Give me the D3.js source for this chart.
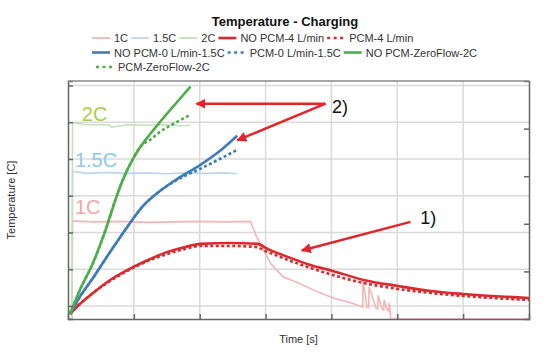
<!DOCTYPE html>
<html>
<head>
<meta charset="utf-8">
<script src="https://cdn.jsdelivr.net/npm/d3@7"></script>
<style>
  body { margin: 0; background: #fff; }
  svg { font-family: "Liberation Sans", Arial, sans-serif; }
</style>
</head>
<body>
<svg id="chart" width="548" height="352"></svg>
<script>
// time [s] / temperature [C] for the main curves
const redSolidT = [30, 180, 380, 640, 990, 1250, 1510, 1780, 2010, 2470, 2880, 3030, 3380, 3680, 4020, 4490, 5010, 5510, 6010, 7000];
const redSolidV = [23.91, 25.27, 26.77, 28.54, 30.31, 31.40, 32.36, 33.04, 33.45, 33.58, 33.45, 32.77, 31.54, 30.59, 29.77, 28.54, 27.72, 27.04, 26.63, 26.09];
const redDotT = [30, 180, 380, 640, 990, 1250, 1510, 1780, 2010, 2470, 2840, 3030, 3380, 3680, 4020, 4490, 5010, 5510, 6010, 7000];
const redDotV = [23.91, 25.27, 26.77, 28.41, 30.18, 31.27, 32.08, 32.77, 33.17, 33.17, 33.04, 32.36, 31.13, 30.18, 29.22, 28.13, 27.32, 26.77, 26.36, 25.82];

const blueSolidT = [30, 150, 380, 640, 900, 1140, 1400, 1660, 2010, 2310, 2570];
const blueSolidV = [23.91, 25.82, 28.81, 32.36, 35.76, 38.62, 40.67, 42.30, 44.21, 46.12, 48.16];
const blueDotT = [30, 150, 380, 640, 900, 1140, 1400, 1660, 2010, 2310, 2570];
const blueDotV = [23.91, 25.82, 28.81, 32.36, 35.76, 38.62, 40.67, 42.17, 43.67, 45.03, 46.25];

const greenSolidT = [30, 180, 380, 560, 720, 820, 970, 1100, 1250, 1400, 1660, 1860];
const greenSolidV = [23.91, 27.18, 30.86, 35.08, 39.44, 41.89, 44.75, 46.66, 48.43, 50.07, 52.79, 54.84];
const greenDotT = [30, 180, 380, 560, 720, 820, 970, 1100, 1250, 1400, 1660, 1860];
const greenDotV = [23.91, 27.18, 30.86, 35.08, 39.44, 41.89, 44.75, 46.66, 47.62, 48.71, 50.07, 51.02];

// charging current [A] (right axis)
const c1T = [0, 60, 70, 400, 800, 1200, 1600, 2000, 2400, 2770, 2860, 2950, 3080, 3270, 3490, 3790, 4030, 4290, 4440, 4474, 4480, 4540, 4566, 4572, 4680, 4703, 4710, 4770, 4794, 4800, 4850, 4870, 4880, 4900, 7000];
const c1V = [0, 0, 2.06, 2.04, 2.05, 2.03, 2.04, 2.05, 2.04, 2.05, 1.74, 1.49, 1.16, 0.88, 0.76, 0.57, 0.44, 0.34, 0.27, 0.25, 0.80, 0.25, 0.24, 0.67, 0.22, 0.21, 0.50, 0.20, 0.19, 0.40, 0.18, 0.17, 0.34, 0, 0];
const c15T = [0, 60, 70, 300, 600, 900, 1200, 1500, 1800, 2100, 2400, 2570];
const c15V = [0, 0, 3.10, 3.06, 3.08, 3.06, 3.07, 3.05, 3.07, 3.06, 3.07, 3.05];
const c2T = [0, 60, 70, 300, 620, 660, 900, 1200, 1500, 1700, 1860];
const c2V = [0, 0, 4.12, 4.08, 4.08, 4.03, 4.08, 4.07, 4.08, 4.06, 4.07];

const xTicks = [1000, 2000, 3000, 4000, 5000, 6000];
const yTicks = [25, 30, 35, 40, 45, 50, 55];
const y2Ticks = [1, 2, 3, 4];

const legendRows = [
  ["1C", "1.5C", "2C", "NO PCM-4 L/min", "PCM-4 L/min"],
  ["NO PCM-0 L/min-1.5C", "PCM-0 L/min-1.5C", "NO PCM-ZeroFlow-2C"],
  ["PCM-ZeroFlow-2C"]
];

const red = "#db2a2e", blue = "#3d7cb8", green = "#4fae4b";
const styles = {
  "1C": {color: "#f3b6b6", width: 1.6, dash: null},
  "1.5C": {color: "#bcd7ec", width: 1.6, dash: null},
  "2C": {color: "#c3e2b9", width: 1.6, dash: null},
  "NO PCM-4 L/min": {color: red, width: 2.6, dash: null},
  "PCM-4 L/min": {color: red, width: 2.6, dash: "3,2.5"},
  "NO PCM-0 L/min-1.5C": {color: blue, width: 2.6, dash: null},
  "PCM-0 L/min-1.5C": {color: blue, width: 2.6, dash: "3,2.5"},
  "NO PCM-ZeroFlow-2C": {color: green, width: 2.6, dash: null},
  "PCM-ZeroFlow-2C": {color: green, width: 2.6, dash: "3,2.5"}
};

const svg = d3.select("#chart");
const margin = {top: 81, right: 19, bottom: 33, left: 68};
const width = 548 - margin.left - margin.right;
const height = 352 - margin.top - margin.bottom;

const x = d3.scaleLinear().domain([0, 7000]).range([0, width]);
const y = d3.scaleLinear().domain([23.23, 55.61]).range([height, 0]);
const y2 = d3.scaleLinear().domain([0, 5]).range([height, 0]);

const g = svg.append("g").attr("transform", `translate(${margin.left},${margin.top})`);

// grid
g.append("g").selectAll("line").data(xTicks).enter().append("line")
  .attr("x1", d => x(d)).attr("x2", d => x(d)).attr("y1", 0).attr("y2", height)
  .attr("stroke", "#dadada").attr("stroke-width", 1.5);
g.append("g").selectAll("line").data(yTicks).enter().append("line")
  .attr("y1", d => y(d)).attr("y2", d => y(d)).attr("x1", 0).attr("x2", width)
  .attr("stroke", "#dadada").attr("stroke-width", 1.5);

const zip = (ts, vs) => ts.map((t, i) => ({t: t, v: vs[i]}));
const lineT = d3.line().x(d => x(d.t)).y(d => y(d.v)).curve(d3.curveMonotoneX);
const lineC = d3.line().x(d => x(d.t)).y(d => y2(d.v));

const series = [
  {name: "1C", data: zip(c1T, c1V), gen: lineC},
  {name: "1.5C", data: zip(c15T, c15V), gen: lineC},
  {name: "2C", data: zip(c2T, c2V), gen: lineC},
  {name: "NO PCM-4 L/min", data: zip(redSolidT, redSolidV), gen: lineT},
  {name: "PCM-4 L/min", data: zip(redDotT, redDotV), gen: lineT},
  {name: "NO PCM-0 L/min-1.5C", data: zip(blueSolidT, blueSolidV), gen: lineT},
  {name: "PCM-0 L/min-1.5C", data: zip(blueDotT, blueDotV), gen: lineT},
  {name: "NO PCM-ZeroFlow-2C", data: zip(greenSolidT, greenSolidV), gen: lineT},
  {name: "PCM-ZeroFlow-2C", data: zip(greenDotT, greenDotV), gen: lineT}
];

series.forEach(s => {
  const st = styles[s.name];
  g.append("path")
    .datum(s.data)
    .attr("d", s.gen)
    .attr("fill", "none")
    .attr("stroke", st.color)
    .attr("stroke-width", st.width)
    .attr("stroke-dasharray", st.dash);
});

// axes: inward ticks, no labels
g.append("g").attr("transform", `translate(0,${height})`)
  .call(d3.axisBottom(x).tickValues(xTicks).tickSize(-5).tickFormat(""))
  .call(a => a.selectAll("line,path").attr("stroke", "#666").attr("stroke-width", 1.5));
g.append("g")
  .call(d3.axisLeft(y).tickValues(yTicks).tickSize(-5).tickFormat(""))
  .call(a => a.selectAll("line,path").attr("stroke", "#666").attr("stroke-width", 1.5));
g.append("g").attr("transform", `translate(${width},0)`)
  .call(d3.axisRight(y2).tickValues(y2Ticks).tickSize(-5).tickFormat(""))
  .call(a => a.selectAll("line,path").attr("stroke", "#666").attr("stroke-width", 1.5));
g.append("line").attr("x1", 0).attr("x2", width).attr("y1", 0).attr("y2", 0)
  .attr("stroke", "#888").attr("stroke-width", 1.5);

// C-rate labels
const rateLabels = [
  {text: "2C", t: 210, v: 4.17, color: "#a6cf45"},
  {text: "1.5C", t: 105, v: 3.19, color: "#8dcbe5"},
  {text: "1C", t: 105, v: 2.20, color: "#f5a5a5"}
];
g.selectAll(".rate").data(rateLabels).enter().append("text")
  .attr("x", d => x(d.t)).attr("y", d => y2(d.v))
  .attr("fill", d => d.color).attr("font-size", 20)
  .text(d => d.text);

// annotations
const arrows = [
  {t0: 3910, v0: 52.52, t1: 1950, v1: 52.52},
  {t0: 3910, v0: 52.52, t1: 2570, v1: 47.55},
  {t0: 5200, v0: 36.44, t1: 3550, v1: 32.56}
];
svg.append("defs").append("marker")
  .attr("id", "head").attr("viewBox", "0 0 10 10").attr("refX", 9).attr("refY", 5)
  .attr("markerWidth", 4).attr("markerHeight", 4).attr("orient", "auto")
  .append("path").attr("d", "M0,0L10,5L0,10Z").attr("fill", "#e3242b");
g.selectAll(".arrow").data(arrows).enter().append("line")
  .attr("x1", d => x(d.t0)).attr("y1", d => y(d.v0))
  .attr("x2", d => x(d.t1)).attr("y2", d => y(d.v1))
  .attr("stroke", "#e3242b").attr("stroke-width", 2.5)
  .attr("marker-end", "url(#head)");
const notes = [
  {text: "2)", t: 4010, v: 51.3},
  {text: "1)", t: 5350, v: 36.1}
];
g.selectAll(".note").data(notes).enter().append("text")
  .attr("x", d => x(d.t)).attr("y", d => y(d.v))
  .attr("font-size", 18).attr("fill", "#111").text(d => d.text);

// title and axis labels
svg.append("text").attr("x", 285).attr("y", 26).attr("text-anchor", "middle")
  .attr("font-size", 13).attr("font-weight", "bold").attr("fill", "#111")
  .text("Temperature - Charging");
svg.append("text").attr("x", margin.left + width / 2).attr("y", 343)
  .attr("text-anchor", "middle").attr("font-size", 11).attr("fill", "#333")
  .text("Time [s]");
svg.append("text")
  .attr("transform", `translate(15,${margin.top + height / 2}) rotate(-90)`)
  .attr("text-anchor", "middle").attr("font-size", 11).attr("fill", "#333")
  .text("Temperature [C]");

// legend
const rowStart = [92, 92, 96];
const legend = svg.append("g");
legendRows.forEach((row, r) => {
  let cx = rowStart[r];
  const cy = 42 + r * 14.5;
  row.forEach(name => {
    const st = styles[name];
    legend.append("line")
      .attr("x1", cx).attr("x2", cx + 18).attr("y1", cy - 4).attr("y2", cy - 4)
      .attr("stroke", st.color).attr("stroke-width", st.dash ? 2.6 : (st.width > 2 ? 2.6 : 1.8))
      .attr("stroke-dasharray", st.dash ? "3,3.5" : null);
    const txt = legend.append("text")
      .attr("x", cx + 22).attr("y", cy)
      .attr("font-size", 11).attr("fill", "#333").text(name);
    cx += 22 + txt.node().getComputedTextLength() + 3;
  });
});
</script>
</body>
</html>
